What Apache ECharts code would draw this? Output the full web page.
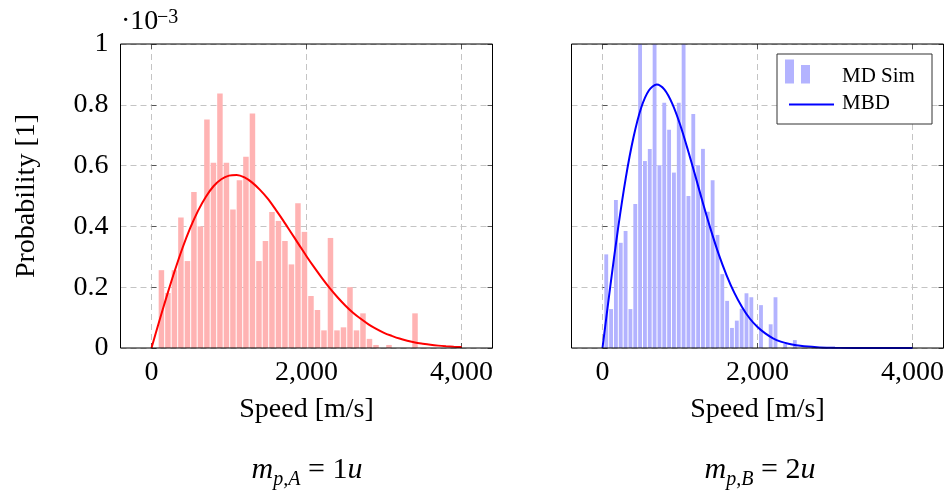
<!DOCTYPE html>
<html>
<head>
<meta charset="utf-8">
<script src="https://cdn.jsdelivr.net/npm/echarts@6/dist/echarts.min.js"></script>
<style>html,body{margin:0;padding:0;background:#fff;}#c{width:949px;height:494px;}</style>
</head>
<body>
<div id="c"></div>
<script>
// ---- Data (probability values in units of 1e-3) ----
const histA_binStart = 86;     // m/s, left edge of first bin
const histA_binWidth = 83.9;   // m/s
const histA_values = [0.256,0.181,0.256,0.429,0.286,0.513,0.400,0.752,0.609,0.837,
  0.609,0.456,0.552,0.629,0.771,0.286,0.352,0.447,0.418,0.352,
  0.275,0.476,0.382,0.171,0.125,0.058,0.362,0.058,0.068,0.200,
  0.058,0.114,0.030,0.010,0.000,0.010,0.000,0.000,0.000,0.114];

const histB_binStart = 17;
const histB_binWidth = 62.4;
const histB_values = [0.308,0.128,0.487,0.346,0.385,0.128,0.474,1.200,0.615,0.655,
  1.200,0.601,0.807,0.718,0.577,0.807,1.200,0.500,0.770,0.601,
  0.655,0.448,0.552,0.372,0.243,0.155,0.066,0.090,0.129,0.180,
  0.167,0.000,0.141,0.000,0.078,0.167,0.000,0.013,0.000,0.026];

const mbdA_speeds = [0,100,200,300,400,500,600,700,800,900,1000,1100,1200,1300,1400,1500,1600,1700,1800,1900,
  2000,2100,2200,2300,2400,2500,2600,2700,2800,2900,3000,3100,3200,3300,3400,3500,3600,3700,3800,3900,4000];
const mbdA_values = [0,0.088,0.173,0.254,0.329,0.395,0.451,0.497,0.532,0.555,0.567,0.569,0.561,0.544,0.520,0.491,0.456,0.419,0.380,0.341,
  0.302,0.265,0.230,0.197,0.167,0.140,0.116,0.096,0.078,0.063,0.050,0.040,0.031,0.024,0.018,0.014,0.0105,0.0078,0.0058,0.0042,0.0031];

const mbdB_speeds = [0,100,200,300,400,500,600,700,800,900,1000,1100,1200,1300,1400,1500,1600,1700,1800,1900,
  2000,2100,2200,2300,2400,2500,2600,2800,3000,3500,4000];
const mbdB_values = [0,0.202,0.392,0.559,0.693,0.791,0.848,0.867,0.850,0.804,0.736,0.653,0.564,0.473,0.387,0.308,0.240,0.182,0.135,0.097,
  0.069,0.048,0.032,0.021,0.0137,0.0087,0.0054,0.0019,0.0006,0.0,0.0];

const xTicks = [0, 2000, 4000];
const yTicks = [0, 0.2, 0.4, 0.6, 0.8, 1];
const labelsX = 'Speed [m/s]';
const labelY = 'Probability [1]';
const legendNames = ['MD Sim', 'MBD'];

// ---- Build ----
const FONT = "'Liberation Serif', 'DejaVu Serif', serif";
function bins(start, w, vals) {
  return vals.map((v, i) => [start + i * w, start + (i + 1) * w, v]);
}
function pairs(xs, ys) { return xs.map((x, i) => [x, ys[i]]); }

const dash = { color: '#c4c4c4', width: 1, type: [6, 4] };
const tickStyle = { color: '#555', width: 1 };

function histSeries(xi, yi, data, color) {
  return {
    type: 'custom', xAxisIndex: xi, yAxisIndex: yi, clip: true, z: 2,
    data: data,
    renderItem: function (params, api) {
      const p0 = api.coord([api.value(0), api.value(2)]);
      const p1 = api.coord([api.value(1), 0]);
      return {
        type: 'rect',
        shape: { x: p0[0] + 0.5, y: p0[1], width: Math.max(0, p1[0] - p0[0] - 1), height: p1[1] - p0[1] },
        style: { fill: color }
      };
    }
  };
}

function outerX(g) { return { gridIndex: g, type: 'value', min: -400, max: 4400, show: false }; }
function innerX(g) {
  return {
    gridIndex: g, type: 'value', min: 0, max: 4000, interval: 2000,
    axisLine: { show: false },
    axisTick: { show: true, inside: true, length: 5, lineStyle: tickStyle },
    axisLabel: { fontFamily: FONT, fontSize: 28, color: '#000', margin: 11,
      formatter: v => xTicks.indexOf(v) >= 0 ? String(v).replace(/\B(?=(\d{3})+(?!\d))/g, ',') : '' },
    splitLine: { show: true, lineStyle: dash },
    name: labelsX, nameLocation: 'middle', nameGap: 48,
    nameTextStyle: { fontFamily: FONT, fontSize: 28, color: '#000' }
  };
}
function innerXTop(g) {
  return { gridIndex: g, type: 'value', min: 0, max: 4000, interval: 2000, position: 'top',
    axisLine: { show: false }, axisLabel: { show: false }, splitLine: { show: false },
    axisTick: { show: true, inside: true, length: 5, lineStyle: tickStyle } };
}
function outerY(g, labels) {
  return {
    gridIndex: g, type: 'value', min: 0, max: 1, interval: 0.2,
    axisLine: { show: false },
    axisTick: { show: true, inside: true, length: 5, lineStyle: tickStyle },
    axisLabel: { show: labels, fontFamily: FONT, fontSize: 28, color: '#000', margin: 12,
      formatter: v => { const t = yTicks.find(k => Math.abs(k - v) < 1e-9); return t === undefined ? '' : String(t); } },
    splitLine: { show: true, lineStyle: dash },
    name: labels ? labelY : '', nameLocation: 'middle', nameRotate: 90, nameGap: 80,
    nameTextStyle: { fontFamily: FONT, fontSize: 28, color: '#000' }
  };
}
function outerYRight(g) {
  return { gridIndex: g, type: 'value', min: 0, max: 1, interval: 0.2, position: 'right',
    axisLine: { show: false }, axisLabel: { show: false }, splitLine: { show: false },
    axisTick: { show: true, inside: true, length: 5, lineStyle: tickStyle } };
}
function hiddenY(g) { return { gridIndex: g, type: 'value', min: 0, max: 1, show: false }; }

function massLabel(x, sub, val) {
  return { type: 'text', x: x, y: 470, z: 100, style: {
    text: '{i|m}{s|' + sub + '}{n| = ' + val + '}{i|u}', align: 'center', verticalAlign: 'middle', fill: '#000', fontFamily: FONT, fontSize: 30,
    rich: {
      i: { fontFamily: FONT, fontSize: 30, fontStyle: 'italic', lineHeight: 40, verticalAlign: 'middle' },
      n: { fontFamily: FONT, fontSize: 30, lineHeight: 40, verticalAlign: 'middle' },
      s: { fontFamily: FONT, fontSize: 20, fontStyle: 'italic', lineHeight: 24, verticalAlign: 'bottom' }
    } } };
}

const option = {
  animation: false,
  backgroundColor: '#fff',
  grid: [
    { left: 120.5, top: 44, width: 372, height: 304, show: true, borderColor: '#000', borderWidth: 1, backgroundColor: 'transparent', z: 5 },
    { left: 151.5, top: 44, width: 310, height: 304 },
    { left: 571.5, top: 44, width: 372, height: 304, show: true, borderColor: '#000', borderWidth: 1, backgroundColor: 'transparent', z: 5 },
    { left: 602.5, top: 44, width: 310, height: 304 }
  ],
  xAxis: [outerX(0), innerX(1), innerXTop(1), outerX(2), innerX(3), innerXTop(3)],
  yAxis: [outerY(0, true), outerYRight(0), hiddenY(1), outerY(2, false), outerYRight(2), hiddenY(3)],
  series: [
    histSeries(1, 2, bins(histA_binStart, histA_binWidth, histA_values), '#ffb3b3'),
    { type: 'line', name: legendNames[1], xAxisIndex: 1, yAxisIndex: 2, data: pairs(mbdA_speeds, mbdA_values),
      smooth: 0.3, showSymbol: false, lineStyle: { color: '#ff0000', width: 2 }, z: 3 },
    histSeries(4, 5, bins(histB_binStart, histB_binWidth, histB_values), '#b3b3ff'),
    { type: 'line', name: legendNames[1], xAxisIndex: 4, yAxisIndex: 5, data: pairs(mbdB_speeds, mbdB_values),
      smooth: 0.3, showSymbol: false, lineStyle: { color: '#0000ff', width: 2 }, z: 3 }
  ],
  graphic: [
    { type: 'text', x: 121, y: 36, z: 100, style: { text: '·10', fontFamily: FONT, fontSize: 28, fill: '#000', align: 'left', verticalAlign: 'bottom' } },
    { type: 'text', x: 157, y: 28, z: 100, style: { text: '−3', fontFamily: FONT, fontSize: 20, fill: '#000', align: 'left', verticalAlign: 'bottom' } },
    massLabel(307, 'p,A', '1'),
    massLabel(760, 'p,B', '2'),
    // legend
    { type: 'rect', z: 100, shape: { x: 777, y: 54, width: 155, height: 70 }, style: { fill: '#fff', stroke: '#333', lineWidth: 1 } },
    { type: 'rect', z: 101, shape: { x: 785, y: 59.5, width: 9, height: 24 }, style: { fill: '#b3b3ff' } },
    { type: 'rect', z: 101, shape: { x: 801, y: 65, width: 9, height: 18.5 }, style: { fill: '#b3b3ff' } },
    { type: 'line', z: 101, shape: { x1: 789, y1: 104.5, x2: 834, y2: 104.5 }, style: { stroke: '#0000ff', lineWidth: 2 } },
    { type: 'text', x: 842, y: 76, z: 101, style: { text: legendNames[0], fontFamily: FONT, fontSize: 21, fill: '#000', align: 'left', verticalAlign: 'middle' } },
    { type: 'text', x: 842, y: 103, z: 101, style: { text: legendNames[1], fontFamily: FONT, fontSize: 21, fill: '#000', align: 'left', verticalAlign: 'middle' } }
  ]
};

const chart = echarts.init(document.getElementById('c'), null, { renderer: 'canvas' });
chart.setOption(option);
</script>
</body>
</html>
